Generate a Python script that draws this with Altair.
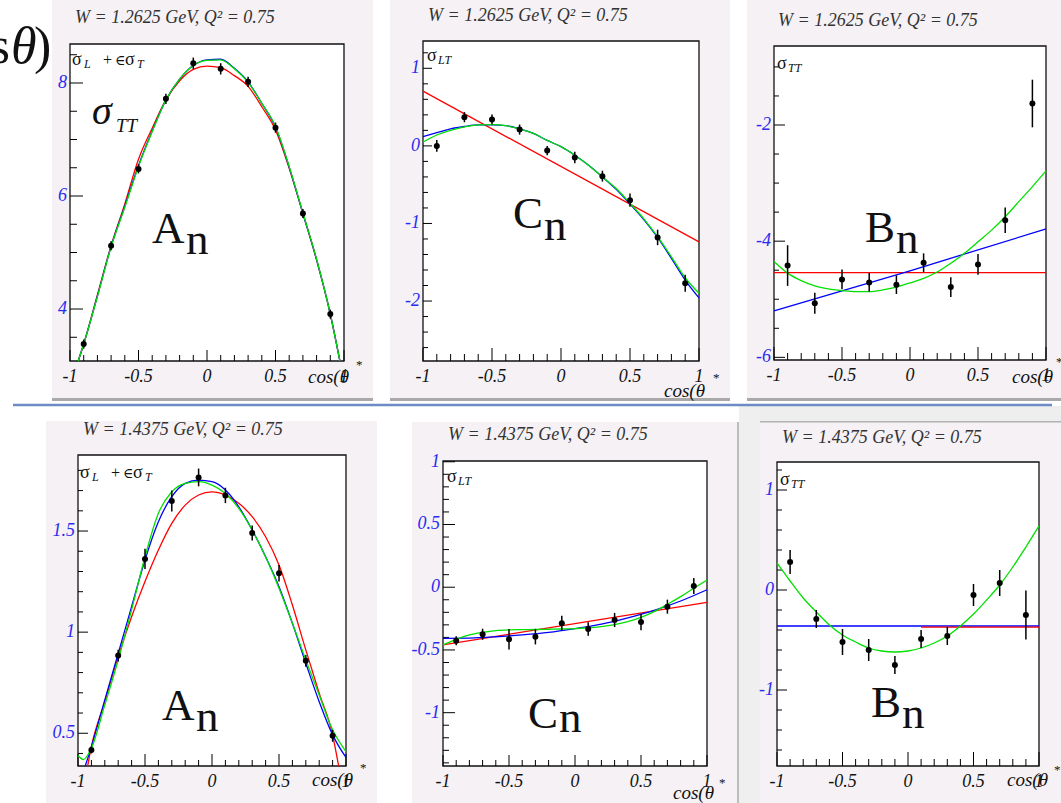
import altair as alt
import pandas as pd

# ---------------------------------------------------------------- data
COS_THETA = [-0.9, -0.7, -0.5, -0.3, -0.1, 0.1, 0.3, 0.5, 0.7, 0.9]
GRID = [-1.0, -0.9, -0.8, -0.7, -0.6, -0.5, -0.4, -0.3, -0.2, -0.1, 0.0,
        0.1, 0.2, 0.3, 0.4, 0.5, 0.6, 0.7, 0.8, 0.9, 1.0]

X_MAJOR = [-1, -0.5, 0, 0.5, 1]
X_LABELS = ["-1", "-0.5", "0", "0.5", "1"]
X_MINOR = [-0.9, -0.8, -0.7, -0.6, -0.4, -0.3, -0.2, -0.1,
           0.1, 0.2, 0.3, 0.4, 0.6, 0.7, 0.8, 0.9]

# W = 1.2625 GeV : sigma_L + eps sigma_T
A1_VAL = [3.38, 5.12, 6.48, 7.72, 8.35, 8.25, 8.02, 7.21, 5.69, 3.91]
A1_ERR = [0.08, 0.08, 0.08, 0.09, 0.10, 0.10, 0.09, 0.09, 0.08, 0.08]
A1_FIT_X = [-0.94, -0.9, -0.8, -0.7, -0.6, -0.5, -0.4, -0.3, -0.2, -0.1, 0.0,
            0.1, 0.2, 0.3, 0.4, 0.5, 0.6, 0.7, 0.8, 0.9, 0.97]
A1_RED = [3.08, 3.38, 4.25, 5.12, 5.86, 6.65, 7.20, 7.70, 8.04, 8.24, 8.30,
          8.27, 8.13, 7.94, 7.58, 7.17, 6.49, 5.69, 4.87, 3.91, 3.08]
A1_BLUE = [3.08, 3.38, 4.23, 5.11, 5.82, 6.54, 7.15, 7.70, 8.07, 8.31, 8.41,
           8.42, 8.26, 8.02, 7.64, 7.22, 6.51, 5.69, 4.87, 3.91, 3.08]
A1_GREEN = [3.08, 3.38, 4.22, 5.10, 5.80, 6.52, 7.14, 7.70, 8.07, 8.31, 8.40,
            8.41, 8.25, 8.01, 7.64, 7.23, 6.52, 5.70, 4.88, 3.91, 3.08]

# W = 1.2625 GeV : sigma_LT
C1_VAL = [0.0, 0.37, 0.34, 0.21, -0.06, -0.15, -0.39, -0.70, -1.18, -1.77]
C1_ERR = [0.075, 0.065, 0.065, 0.065, 0.06, 0.075, 0.07, 0.085, 0.10, 0.11]
C1_RED_X = [-1.0, 1.0]
C1_RED = [0.705, -1.237]
C1_BLUE = [0.12, 0.17, 0.22, 0.25, 0.27, 0.27, 0.26, 0.22, 0.16, 0.07, -0.01,
           -0.12, -0.25, -0.40, -0.56, -0.75, -0.95, -1.18, -1.45, -1.73, -1.96]
C1_GREEN = [0.05, 0.14, 0.20, 0.245, 0.27, 0.275, 0.26, 0.22, 0.16, 0.07, -0.01,
            -0.12, -0.25, -0.40, -0.55, -0.74, -0.94, -1.17, -1.43, -1.70, -1.90]

# W = 1.2625 GeV : sigma_TT
B1_VAL = [-4.42, -5.07, -4.66, -4.71, -4.75, -4.37, -4.79, -4.40, -3.64, -1.63]
B1_ERR = [0.35, 0.18, 0.17, 0.16, 0.16, 0.16, 0.17, 0.18, 0.22, 0.41]
B1_RED_X = [-1.0, 1.0]
B1_RED = [-4.54, -4.54]
B1_BLUE_X = [-1.0, 0.0, 1.0]
B1_BLUE = [-5.20, -4.51, -3.79]
B1_GREEN = [-4.35, -4.55, -4.68, -4.77, -4.82, -4.85, -4.87, -4.87, -4.84, -4.79, -4.72,
            -4.64, -4.53, -4.38, -4.21, -4.01, -3.81, -3.58, -3.32, -3.06, -2.79]

# W = 1.4375 GeV : sigma_L + eps sigma_T
A2_VAL = [0.417, 0.884, 1.362, 1.648, 1.765, 1.676, 1.490, 1.291, 0.858, 0.487]
A2_ERR = [0.017, 0.029, 0.05, 0.052, 0.044, 0.038, 0.037, 0.041, 0.029, 0.029]
A2_RED_X = [-0.928, -0.9, -0.8, -0.7, -0.6, -0.5, -0.4, -0.3, -0.2, -0.1, 0.0,
            0.1, 0.2, 0.3, 0.4, 0.5, 0.6, 0.7, 0.8, 0.9, 0.945]
A2_RED = [0.338, 0.434, 0.656, 0.879, 1.076, 1.25, 1.406, 1.538, 1.628, 1.678, 1.694,
          1.678, 1.637, 1.571, 1.472, 1.332, 1.134, 0.912, 0.698, 0.492, 0.338]
A2_BLUE_X = [-0.946, -0.9, -0.8, -0.7, -0.6, -0.5, -0.4, -0.3, -0.2, -0.1, 0.0,
             0.1, 0.2, 0.3, 0.4, 0.5, 0.6, 0.7, 0.8, 0.9, 1.0]
A2_BLUE = [0.338, 0.434, 0.665, 0.895, 1.126, 1.357, 1.546, 1.670, 1.736, 1.752, 1.744,
           1.703, 1.620, 1.505, 1.373, 1.225, 1.044, 0.846, 0.656, 0.492, 0.38]
A2_GREEN_X = [-1.0, -0.96, -0.9, -0.8, -0.7, -0.6, -0.5, -0.4, -0.3, -0.2, -0.1, 0.0,
              0.1, 0.2, 0.3, 0.4, 0.5, 0.6, 0.7, 0.8, 0.9, 1.0]
A2_GREEN = [0.39, 0.37, 0.426, 0.64, 0.862, 1.11, 1.373, 1.588, 1.694, 1.736, 1.744, 1.727,
            1.686, 1.612, 1.505, 1.373, 1.217, 1.044, 0.862, 0.689, 0.517, 0.409]

# W = 1.4375 GeV : sigma_LT
C2_VAL = [-0.426, -0.375, -0.415, -0.394, -0.287, -0.333, -0.261, -0.277, -0.155, 0.01]
C2_ERR = [0.036, 0.044, 0.082, 0.062, 0.06, 0.053, 0.056, 0.066, 0.056, 0.064]
C2_RED_X = [-1.0, 1.0]
C2_RED = [-0.46, -0.12]
C2_BLUE_X = [-1.0, -0.8, -0.6, -0.4, -0.2, 0.0, 0.2, 0.4, 0.6, 0.8, 1.0]
C2_BLUE = [-0.407, -0.405, -0.395, -0.38, -0.36, -0.33, -0.295, -0.245, -0.185, -0.11, -0.02]
C2_GREEN = [-0.46, -0.415, -0.38, -0.36, -0.346, -0.34, -0.338, -0.337, -0.335, -0.333, -0.33,
            -0.323, -0.314, -0.298, -0.274, -0.24, -0.195, -0.136, -0.075, -0.008, 0.058]

# W = 1.4375 GeV : sigma_TT
B2_VAL = [0.28, -0.29, -0.52, -0.60, -0.75, -0.49, -0.46, -0.05, 0.07, -0.25]
B2_ERR = [0.12, 0.09, 0.13, 0.11, 0.09, 0.09, 0.09, 0.11, 0.13, 0.245]
B2_BLUE_X = [-1.0, 1.0]
B2_BLUE = [-0.36, -0.36]
B2_RED_X = [0.1, 1.0]
B2_RED = [-0.372, -0.372]
B2_GREEN = [0.27, 0.09, -0.08, -0.22, -0.35, -0.45, -0.52, -0.58, -0.61, -0.62, -0.61,
            -0.58, -0.53, -0.46, -0.36, -0.24, -0.10, 0.05, 0.23, 0.43, 0.64]

# ---------------------------------------------------------------- style
FONT = "Liberation Serif"
RED, BLUE, GREEN = "#ff0000", "#0000ff", "#00e000"
LABEL_BLUE = "#2a2af0"
PANEL_BG = "#f5f1f5"
ONE = pd.DataFrame({"k": [0]})


def panel(g, val, err, fits, y_major, y_labels, y_minor):
    """One ROOT-style frame: box, inward ticks, labels, fit curves and points."""
    xs = alt.Scale(domain=[-1, 1], range=[g["left"], g["right"]], nice=False, zero=False)
    ys = alt.Scale(domain=[g["ylo"], g["yhi"]], range=[g["bottom"], g["top"]],
                   nice=False, zero=False)

    def X(f):
        return alt.X(f, type="quantitative", scale=xs, axis=None)

    def Y(f):
        return alt.Y(f, type="quantitative", scale=ys, axis=None)

    ymaj_len, ymin_len = g["yticks"]
    xmaj_len, xmin_len = g["xticks"]
    layers = []

    box = pd.DataFrame({"x0": [-1], "x1": [1], "y0": [g["ylo"]], "y1": [g["yhi"]]})
    layers.append(alt.Chart(box).mark_rect(fill="white", stroke="#111111", strokeWidth=1.3)
                  .encode(x=X("x0"), x2="x1", y=Y("y0"), y2="y1"))

    # bottom axis ticks (pointing inward)
    for vals, ln in ((X_MAJOR, xmaj_len), (X_MINOR, xmin_len)):
        d = pd.DataFrame({"x": vals, "y": g["ylo"]})
        layers.append(alt.Chart(d).mark_tick(orient="vertical", size=ln, thickness=1,
                                             yOffset=-ln / 2, color="black", opacity=1)
                      .encode(x=X("x"), y=Y("y")))
    # left axis ticks (pointing inward)
    for vals, ln in ((y_major, ymaj_len), (y_minor, ymin_len)):
        d = pd.DataFrame({"x": -1, "y": vals})
        layers.append(alt.Chart(d).mark_tick(orient="horizontal", size=ln, thickness=1,
                                             xOffset=ln / 2, color="black", opacity=1)
                      .encode(x=X("x"), y=Y("y")))

    # tick labels
    d = pd.DataFrame({"x": -1, "y": y_major, "t": y_labels})
    layers.append(alt.Chart(d).mark_text(align="right", baseline="middle", dx=-3, font=FONT,
                                         fontStyle="italic", fontSize=18, color=LABEL_BLUE)
                  .encode(x=X("x"), y=Y("y"), text="t:N"))
    d = pd.DataFrame({"x": X_MAJOR, "y": g["ylo"], "t": X_LABELS})
    layers.append(alt.Chart(d).mark_text(align="center", baseline="middle", dy=16, font=FONT,
                                         fontStyle="italic", fontSize=18, color="#111111")
                  .encode(x=X("x"), y=Y("y"), text="t:N"))

    # fit curves
    for fx, fy, col in fits:
        d = pd.DataFrame({"x": fx, "y": fy})
        layers.append(alt.Chart(d).mark_line(color=col, strokeWidth=1.3, interpolate="monotone")
                      .encode(x=X("x"), y=Y("y")))

    # measured points with error bars
    d = pd.DataFrame({"x": COS_THETA, "y": val,
                      "lo": [v - e for v, e in zip(val, err)],
                      "hi": [v + e for v, e in zip(val, err)]})
    layers.append(alt.Chart(d).mark_rule(color="black", strokeWidth=1.5)
                  .encode(x=X("x"), y=Y("lo"), y2="hi"))
    layers.append(alt.Chart(d).mark_circle(color="black", size=36, opacity=1)
                  .encode(x=X("x"), y=Y("y")))
    return alt.layer(*layers)


def note(text, x, y, size=18, italic=False, color="#111111", align="left", font=FONT):
    return (alt.Chart(ONE)
            .mark_text(text=text, align=align, baseline="alphabetic", font=font,
                       fontSize=size, fontStyle="italic" if italic else "normal", color=color)
            .encode(x=alt.value(x), y=alt.value(y)))


def block(x0, y0, x1, y1, color):
    return (alt.Chart(ONE).mark_rect(color=color)
            .encode(x=alt.value(x0), x2=alt.value(x1), y=alt.value(y0), y2=alt.value(y1)))


def sum_label(x0, y0):
    """sigma_L + eps sigma_T, ROOT-latex style."""
    return [
        note("σ", x0, y0), note("L", x0 + 12, y0 + 3, size=12, italic=True),
        note("+", x0 + 31, y0, size=16),
        note("∈", x0 + 43, y0, size=14, font="DejaVu Serif"),
        note("σ", x0 + 53, y0), note("T", x0 + 65, y0 + 3, size=12, italic=True),
    ]


# ---------------------------------------------------------------- page background
page = [
    block(52, 0, 373, 398, PANEL_BG),
    block(390, 0, 730, 398, PANEL_BG),
    block(747, 0, 1061, 398, PANEL_BG),
    block(52, 398, 373, 401, "#a9a9a9"),
    block(390, 398, 730, 401, "#a9a9a9"),
    block(747, 398, 1061, 401, "#a9a9a9"),
    block(740, 406, 1061, 421, "#eeeeee"),
    block(739, 406, 760, 803, "#efefef"),
    block(46, 421, 377, 803, PANEL_BG),
    block(412, 422, 738, 803, PANEL_BG),
    block(760, 422, 1061, 803, PANEL_BG),
    block(760, 421, 1061, 422.5, "#b3b3b3"),
    block(737, 422, 739, 803, "#bdbdbd"),
    alt.Chart(ONE).mark_rule(color="#6e8bc6", strokeWidth=2.5)
    .encode(x=alt.value(13), x2=alt.value(1052), y=alt.value(405)),
]

# ---------------------------------------------------------------- panels
G1 = dict(left=70, right=344, top=44, bottom=361, ylo=3.080, yhi=8.690, yticks=(13, 7), xticks=(11, 6))
G2 = dict(left=423, right=699, top=41, bottom=361, ylo=-2.773, yhi=1.352, yticks=(9, 5), xticks=(13, 7))
G3 = dict(left=774, right=1046, top=46, bottom=360, ylo=-6.046, yhi=-0.640, yticks=(11, 5), xticks=(13, 7))
G4 = dict(left=78, right=346, top=455, bottom=766, ylo=0.338, yhi=1.876, yticks=(10, 5), xticks=(12, 6))
G5 = dict(left=443, right=707, top=461, bottom=766, ylo=-1.425, yhi=1.006, yticks=(12, 6), xticks=(11, 6))
G6 = dict(left=777, right=1039, top=462, bottom=766, ylo=-1.76, yhi=1.28, yticks=(10, 5), xticks=(14, 7))

panels = [
    panel(G1, A1_VAL, A1_ERR,
          [(A1_FIT_X, A1_RED, RED), (A1_FIT_X, A1_BLUE, BLUE), (A1_FIT_X, A1_GREEN, GREEN)],
          [4, 6, 8], ["4", "6", "8"], [3.5, 4.5, 5, 5.5, 6.5, 7, 7.5, 8.5]),
    panel(G2, C1_VAL, C1_ERR,
          [(C1_RED_X, C1_RED, RED), (GRID, C1_BLUE, BLUE), (GRID, C1_GREEN, GREEN)],
          [-2, -1, 0, 1], ["-2", "-1", "0", "1"],
          [-2.6, -2.4, -2.2, -1.8, -1.6, -1.4, -1.2, -0.8, -0.6, -0.4, -0.2,
           0.2, 0.4, 0.6, 0.8, 1.2]),
    panel(G3, B1_VAL, B1_ERR,
          [(B1_RED_X, B1_RED, RED), (B1_BLUE_X, B1_BLUE, BLUE), (GRID, B1_GREEN, GREEN)],
          [-6, -4, -2], ["-6", "-4", "-2"], [-5.5, -5, -4.5, -3.5, -3, -2.5, -1.5, -1]),
    panel(G4, A2_VAL, A2_ERR,
          [(A2_RED_X, A2_RED, RED), (A2_BLUE_X, A2_BLUE, BLUE), (A2_GREEN_X, A2_GREEN, GREEN)],
          [0.5, 1, 1.5], ["0.5", "1", "1.5"],
          [0.4, 0.6, 0.7, 0.8, 0.9, 1.1, 1.2, 1.3, 1.4, 1.6, 1.7, 1.8]),
    panel(G5, C2_VAL, C2_ERR,
          [(C2_RED_X, C2_RED, RED), (C2_BLUE_X, C2_BLUE, BLUE), (GRID, C2_GREEN, GREEN)],
          [-1, -0.5, 0, 0.5, 1], ["-1", "-0.5", "0", "0.5", "1"],
          [-1.4, -1.3, -1.2, -1.1, -0.9, -0.8, -0.7, -0.6, -0.4, -0.3, -0.2, -0.1,
           0.1, 0.2, 0.3, 0.4, 0.6, 0.7, 0.8, 0.9]),
    panel(G6, B2_VAL, B2_ERR,
          [(B2_BLUE_X, B2_BLUE, BLUE), (B2_RED_X, B2_RED, RED), (GRID, B2_GREEN, GREEN)],
          [-1, 0, 1], ["-1", "0", "1"],
          [-1.6, -1.4, -1.2, -0.8, -0.6, -0.4, -0.2, 0.2, 0.4, 0.6, 0.8, 1.2]),
]

# ---------------------------------------------------------------- text
TITLE_1 = "W = 1.2625 GeV, Q² = 0.75"
TITLE_2 = "W = 1.4375 GeV, Q² = 0.75"
notes = [
    # partial formula in the slide corner
    note("s", 10, 63, size=52, align="right"),
    note("θ", 11, 63, size=52, italic=True),
    note(")", 34, 63, size=52),
    # frame titles
    note(TITLE_1, 75, 23, italic=True, color="#333333"),
    note(TITLE_1, 428, 21, italic=True, color="#333333"),
    note(TITLE_1, 778, 26, italic=True, color="#333333"),
    note(TITLE_2, 83, 435, italic=True, color="#333333"),
    note(TITLE_2, 448, 440, italic=True, color="#333333"),
    note(TITLE_2, 782, 443, italic=True, color="#333333"),
    # x-axis titles
    note("cos(θ", 308, 383, size=19, italic=True),
    note("cos(θ", 664, 397, size=19, italic=True),
    note("cos(θ", 1012, 383, size=19, italic=True),
    note("cos(θ", 312, 786, size=19, italic=True),
    note("cos(θ", 673, 799, size=19, italic=True),
    note("cos(θ", 1007, 786, size=19, italic=True),
    note("*", 356, 369, size=13),
    note("*", 713, 382, size=13),
    note("*", 1056, 366, size=13),
    note("*", 360, 772, size=13),
    note("*", 719, 787, size=13),
    note("*", 1054, 774, size=13),
    # observable names
    *sum_label(72, 65),
    *sum_label(80, 478),
    note("σ", 427, 61), note("LT", 438, 64, size=12, italic=True),
    note("σ", 777, 69), note("TT", 788, 72, size=12, italic=True),
    note("σ", 447, 482), note("LT", 458, 485, size=12, italic=True),
    note("σ", 780, 485), note("TT", 791, 488, size=12, italic=True),
    note("σ", 92, 124, size=40, italic=True), note("TT", 116, 132, size=19, italic=True),
    # moment labels
    note("A", 152, 243, size=45), note("n", 186, 254, size=45),
    note("C", 513, 228, size=45), note("n", 544, 240, size=45),
    note("B", 865, 242, size=45), note("n", 896, 253, size=45),
    note("A", 162, 720, size=45), note("n", 196, 731, size=45),
    note("C", 528, 728, size=45), note("n", 559, 732, size=45),
    note("B", 871, 717, size=45), note("n", 902, 728, size=45),
]

chart = (
    alt.layer(*page, *panels, *notes)
    .resolve_scale(x="independent", y="independent")
    .properties(width=1061, height=803, padding=0,
                autosize=alt.AutoSizeParams(type="none"), background="white")
    .configure_view(strokeWidth=0)
)

chart.save("out.html", embed_options={"renderer": "svg", "actions": False})
